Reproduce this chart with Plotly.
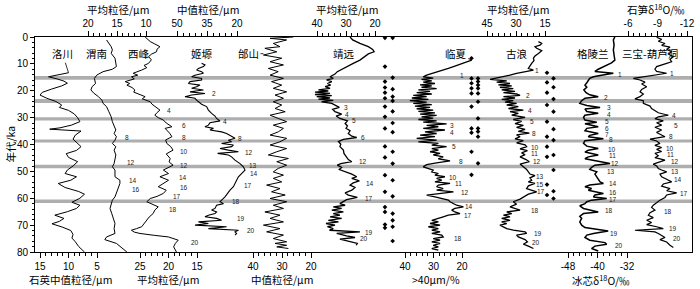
import numpy as np
import plotly.graph_objects as go

# ---------------- data (age in ka, values in each record's own units) ----------------
# 洛川 石英中值粒径 (μm)
lc_ka = [13.3, 14.0, 14.8, 15.6, 16.4, 17.2, 18.2, 19.4, 20.6, 21.6, 22.8, 24.0, 25.3, 26.2, 27.3, 28.6, 30.0, 31.5, 32.8, 33.8,
         34.3, 35.0, 36.5, 38.0, 39.5, 40.8, 42.2, 43.4, 44.8, 46.4, 48.0, 49.5, 50.8, 52.0, 53.3, 54.5, 56.0, 57.5, 58.5, 60.0,
         61.5, 62.6, 63.8, 65.0, 66.3, 67.5, 68.6, 69.5, 70.8, 72.0, 73.5, 74.8, 76.2, 78.0, 80.0]
lc_val = [10.0, 12.0, 13.5, 12.0, 10.8, 10.2, 11.2, 13.0, 14.6, 15.0, 13.8, 12.2, 11.2, 11.6, 10.0, 9.0, 8.4, 8.0, 9.5, 11.5,
          13.3, 7.8, 8.8, 9.2, 8.4, 7.8, 8.6, 10.4, 10.0, 8.4, 9.2, 10.2, 10.6, 8.6, 9.6, 11.8, 10.6, 8.2, 7.2, 8.0,
          9.4, 8.0, 8.6, 10.2, 12.4, 10.8, 11.6, 12.9, 11.0, 9.6, 9.2, 9.4, 8.8, 8.2, 7.2]

# 渭南 平均粒径 (μm)
wn_ka = [1.1, 2.4, 3.6, 4.8, 6.1, 7.9, 9.8, 11.0, 12.0, 12.9, 14.2, 15.4, 17.3, 18.5, 19.7, 20.9, 22.2, 23.5, 24.7, 25.9,
         27.8, 29.7, 31.5, 33.4, 34.6, 35.9, 37.1, 38.4, 39.6, 40.8, 42.1, 43.9, 45.8, 47.1, 48.3, 49.5, 52.0, 53.3, 54.5, 56.4,
         58.2, 59.5, 60.7, 62.0, 63.8, 65.7, 67.5, 69.4, 71.3, 73.1, 74.4, 75.4, 76.8, 78.1, 80.0]
wn_val = [16.8, 16.4, 16.0, 15.8, 16.0, 15.35, 15.2, 15.1, 15.8, 17.4, 18.5, 18.9, 18.7, 19.3, 19.5, 19.0, 18.2, 17.6, 17.4, 16.8,
          16.4, 16.0, 15.8, 15.35, 15.2, 15.5, 15.1, 15.35, 15.8, 15.2, 15.5, 15.2, 15.35, 15.5, 15.8, 15.35, 15.35, 14.5, 14.5, 14.8,
          15.1, 15.35, 15.8, 16.0, 16.2, 15.9, 15.6, 15.35, 15.5, 15.35, 16.8, 17.1, 15.1, 14.3, 13.3]

# 西峰 平均粒径 (μm)
xf_ka = [0.0, 1.0, 1.7, 2.6, 3.6, 4.5, 5.5, 6.4, 7.3, 8.5, 9.8, 10.6, 11.4, 12.3, 13.0, 13.5, 14.2, 14.8, 15.6, 16.6,
         17.3, 17.9, 18.8, 19.7, 20.5, 21.3, 22.2, 23.0, 24.1, 25.0, 26.0, 27.2, 28.1, 29.1, 30.0, 30.9, 32.0, 33.4, 34.0, 34.6,
         35.8, 37.1, 38.3, 39.6, 40.8, 42.1, 43.5, 45.2, 46.5, 47.7, 48.6, 49.5, 50.8, 52.0, 53.3, 54.5, 55.7, 57.0, 58.2, 59.3,
         60.1, 61.3, 62.2, 63.2, 64.4, 65.7, 67.0, 68.2, 69.4, 70.6, 71.3, 71.9, 72.6, 73.1, 73.8, 74.4, 75.6, 76.8, 78.1, 80.0]
xf_val = [24.1, 23.6, 23.2, 22.4, 21.5, 22.0, 22.1, 23.0, 23.5, 23.0, 23.5, 24.3, 23.8, 24.7, 25.6, 26.2, 25.4, 26.5, 26.0, 27.6,
          26.8, 27.3, 26.4, 25.9, 26.1, 25.0, 24.1, 24.6, 23.2, 22.9, 22.2, 21.5, 22.0, 22.4, 21.8, 20.9, 20.4, 19.4, 20.6, 20.3,
          19.8, 19.4, 20.5, 20.3, 19.6, 19.2, 20.4, 19.7, 19.9, 19.2, 20.2, 20.9, 20.0, 21.5, 20.0, 20.8, 21.8, 20.4, 20.9, 22.0,
          23.2, 23.8, 22.8, 21.8, 22.4, 22.7, 23.4, 23.8, 24.2, 24.7, 25.6, 26.5, 26.0, 25.0, 22.5, 20.0, 18.3, 18.8, 19.1, 18.6]

# 姬塬 中值粒径 (μm)
jy_ka = [9.8, 10.4, 11.0, 11.7, 12.3, 12.9, 13.5, 14.2, 14.8, 15.4, 16.0, 16.6, 17.3, 17.9, 18.5, 19.1, 19.7, 20.4, 21.0, 21.6,
         22.2, 22.8, 23.5, 24.1, 25.0, 25.9, 27.2, 28.4, 29.4, 30.3, 31.2, 31.9, 32.8, 33.4, 34.0, 34.6, 35.3, 35.9, 37.1, 37.7,
         38.4, 39.0, 39.6, 40.2, 40.8, 41.5, 42.1, 42.7, 43.3, 43.9, 44.6, 45.8, 47.1, 48.3, 49.5, 50.8, 52.0, 53.3, 54.5, 55.7,
         57.0, 58.2, 59.5, 60.7, 61.3, 62.0, 62.6, 63.8, 64.4, 65.1, 65.7, 66.3, 66.9, 67.5, 68.2, 68.8, 69.4, 70.0, 70.6, 71.3,
         71.9, 72.5, 73.1, 73.7]
jy_val = [37.7, 36.0, 36.8, 39.3, 40.2, 37.7, 36.8, 41.0, 42.7, 37.7, 37.7, 43.5, 44.3, 38.5, 40.2, 42.7, 36.8, 43.5, 36.0, 42.7,
          46.0, 41.0, 40.2, 39.3, 37.7, 35.2, 34.3, 32.7, 31.0, 30.2, 28.5, 33.5, 34.3, 36.0, 31.8, 33.5, 27.7, 25.2, 22.7, 21.0,
          24.3, 22.7, 27.7, 21.8, 22.7, 28.5, 24.3, 19.3, 29.7, 24.3, 22.7, 21.0, 18.5, 16.8, 16.0, 17.7, 19.3, 20.2, 21.0, 21.8,
          23.5, 24.7, 26.0, 27.7, 28.5, 26.8, 30.2, 31.0, 32.7, 30.2, 31.0, 34.3, 36.0, 30.2, 27.7, 39.3, 34.3, 41.0, 25.2, 34.3,
          19.3, 21.0, 20.2, 21.0]

# 邰山 中值粒径 (μm)
ts_ka = [0.0, 0.5, 1.1, 2.4, 3.6, 4.2, 5.5, 6.7, 7.9, 9.2, 10.4, 11.7, 12.9, 14.2, 15.4, 16.6, 17.9, 19.1, 20.4, 21.6,
         22.8, 24.1, 25.3, 26.6, 27.8, 29.1, 30.3, 31.5, 32.8, 34.0, 35.3, 36.5, 37.7, 39.0, 40.2, 41.5, 42.7, 43.9, 45.2, 46.4,
         47.7, 48.9, 50.2, 51.4, 52.6, 53.9, 55.1, 56.4, 57.6, 58.8, 60.1, 61.3, 62.6, 63.8, 65.1, 66.3, 67.5, 68.8, 70.0, 71.3,
         72.5, 73.7, 75.0, 76.2, 76.8, 77.5, 78.1, 78.7]
ts_val = [26.1, 34.1, 28.4, 33.0, 30.7, 35.9, 31.8, 36.4, 30.1, 34.1, 29.5, 34.7, 31.3, 34.1, 29.5, 33.6, 30.1, 33.0, 28.4, 32.4,
          29.5, 33.0, 30.1, 32.4, 28.9, 34.1, 31.3, 28.4, 33.0, 29.5, 31.3, 34.1, 28.4, 30.7, 34.1, 28.4, 31.8, 34.7, 27.8, 31.8,
          28.4, 31.3, 33.0, 29.5, 33.0, 30.1, 35.3, 30.7, 33.6, 28.9, 34.1, 28.4, 33.0, 29.5, 35.9, 30.7, 34.1, 29.5, 36.4, 30.7,
          35.3, 29.5, 33.0, 28.4, 32.4, 28.4, 31.8, 27.8]

# 靖远 平均粒径 (μm)
jyu_ka = [0.0, 1.1, 2.4, 3.6, 4.6, 5.5, 6.3, 7.3, 8.6, 9.8, 10.8, 11.7, 12.9, 13.8, 14.8, 15.4, 16.0, 16.6, 17.3, 17.9,
          18.5, 19.1, 19.7, 20.1, 20.5, 21.0, 21.4, 21.8, 22.2, 22.7, 23.1, 23.6, 24.1, 24.7, 25.3, 26.2, 26.9, 27.8, 28.7, 29.4,
          30.3, 31.2, 32.2, 33.1, 34.0, 34.9, 35.9, 36.9, 37.4, 38.1, 38.9, 39.9, 40.8, 42.1, 43.3, 44.6, 45.6, 46.4, 47.1, 47.7,
          48.5, 49.3, 50.2, 51.0, 52.0, 52.6, 53.5, 54.3, 55.1, 56.0, 57.0, 58.0, 58.8, 59.7, 60.5, 61.3, 62.0, 62.6, 63.2, 63.8,
          64.4, 65.1, 65.7, 66.3, 66.9, 67.5, 68.2, 68.8, 69.4, 70.0, 70.6, 71.3, 71.9, 72.5, 73.1, 74.0, 74.6, 75.2, 76.0, 76.8,
          77.5]
jyu_val = [28.6, 27.7, 25.2, 22.3, 20.8, 20.3, 22.3, 23.4, 25.2, 27.5, 29.2, 30.9, 33.0, 33.8, 35.5, 34.4, 36.7, 34.9, 36.4, 35.3,
           37.2, 35.5, 39.5, 36.1, 40.7, 35.5, 40.7, 34.9, 40.1, 35.5, 39.5, 34.4, 38.4, 34.9, 33.8, 32.3, 34.6, 33.8, 31.5, 33.4,
           32.1, 29.5, 30.3, 29.5, 30.0, 28.6, 29.2, 28.0, 26.3, 30.9, 32.6, 31.8, 32.1, 30.9, 30.7, 29.8, 29.2, 28.0, 31.8, 33.0,
           31.5, 32.3, 29.8, 28.0, 26.3, 28.0, 25.4, 27.5, 28.6, 26.9, 28.0, 30.3, 29.2, 26.1, 29.8, 30.9, 32.1, 30.3, 34.4, 31.5,
           34.9, 30.9, 34.4, 32.1, 35.5, 31.5, 36.1, 32.6, 36.9, 33.8, 36.4, 34.4, 35.7, 25.2, 33.2, 29.8, 26.9, 32.1, 29.2, 26.1,
           26.5]

# 临夏 >40μm 含量 (%)
lx_ka = [8.6, 9.2, 9.8, 10.4, 11.0, 11.7, 12.3, 12.9, 13.5, 14.2, 14.8, 15.3, 15.8, 16.3, 16.8, 17.3, 17.8, 18.2, 18.7, 19.2,
         19.7, 20.2, 20.7, 21.2, 21.7, 22.2, 22.7, 23.2, 23.7, 24.2, 24.7, 25.2, 25.7, 26.2, 26.7, 27.2, 27.7, 28.2, 28.7, 29.2,
         29.7, 30.2, 30.7, 31.2, 31.7, 32.3, 32.9, 33.4, 34.0, 34.6, 35.3, 35.9, 36.5, 37.1, 37.7, 38.4, 39.0, 39.6, 40.2, 40.8,
         41.5, 42.1, 42.7, 43.3, 43.9, 44.6, 45.3, 46.1, 46.8, 47.5, 48.3, 48.9, 49.5, 50.2, 50.8, 51.4, 52.0, 52.6, 53.3, 53.9,
         54.5, 55.1, 55.7, 56.4, 57.0, 57.6, 58.2, 58.8, 59.5, 60.1, 60.7, 61.3, 62.0, 62.6, 63.2, 63.8, 64.4, 65.1, 65.7, 66.3,
         66.9, 67.5, 68.2, 68.8, 69.4, 70.0, 70.6, 71.3, 71.9, 72.5, 73.1, 73.7, 74.4, 75.0, 75.6, 76.2, 76.8, 77.5, 78.1, 78.7,
         79.3]
lx_val = [16.6, 18.4, 19.5, 21.9, 23.0, 24.8, 26.6, 28.3, 30.6, 32.4, 33.6, 30.1, 34.2, 30.6, 33.6, 29.5, 34.7, 30.6, 34.2, 28.9,
          35.3, 31.2, 35.9, 30.6, 37.1, 32.4, 37.6, 31.8, 38.3, 32.4, 37.1, 30.6, 36.5, 31.2, 35.9, 30.1, 35.3, 29.5, 34.7, 28.9,
          34.2, 30.1, 35.3, 28.9, 33.6, 25.4, 32.4, 28.3, 33.6, 26.0, 33.0, 28.9, 34.7, 29.5, 35.9, 28.9, 35.3, 28.3, 30.6, 25.4,
          30.6, 28.3, 31.2, 27.7, 30.1, 26.6, 28.3, 24.2, 28.9, 32.4, 33.6, 31.8, 30.1, 30.6, 28.3, 29.5, 26.0, 28.9, 27.1, 29.5,
          24.2, 28.3, 28.9, 26.6, 28.9, 23.0, 28.9, 32.4, 29.5, 26.6, 24.8, 24.2, 23.0, 21.9, 19.5, 22.5, 23.6, 22.5, 20.7, 24.8,
          26.6, 28.9, 30.6, 28.3, 31.2, 27.7, 31.8, 28.3, 30.6, 27.7, 30.6, 27.1, 26.6, 30.1, 27.7, 30.6, 27.7, 30.1, 28.3, 30.6,
          28.3]

# 古浪 平均粒径 (μm)
gl_ka = [1.7, 2.4, 3.0, 3.6, 4.2, 5.1, 6.1, 7.1, 7.9, 8.8, 9.8, 10.8, 11.7, 12.3, 12.9, 13.5, 14.2, 14.8, 15.4, 15.8,
         16.3, 16.8, 17.3, 17.8, 18.2, 18.7, 19.2, 19.7, 20.2, 20.7, 21.2, 21.7, 22.2, 22.7, 23.2, 23.7, 24.2, 24.7, 25.3, 25.9,
         26.6, 27.2, 27.8, 28.4, 29.1, 29.9, 30.7, 31.4, 32.2, 32.9, 33.6, 34.4, 35.1, 35.8, 36.4, 37.1, 37.9, 38.6, 39.4, 40.1,
         40.8, 41.6, 42.3, 43.1, 43.8, 44.6, 45.6, 46.4, 47.3, 48.3, 49.3, 50.2, 51.0, 51.6, 52.4, 53.3, 53.9, 54.5, 55.4, 56.4,
         57.0, 57.6, 58.5, 59.5, 60.3, 61.3, 62.2, 63.2, 63.9, 64.4, 65.1, 65.7, 66.3, 66.9, 67.5, 68.2, 68.8, 69.4, 70.0, 70.6,
         71.3, 71.9, 72.5, 73.1, 73.7, 74.4, 75.4, 76.2, 77.1, 77.8, 78.7]
gl_val = [18.4, 16.7, 17.6, 20.2, 19.3, 16.7, 18.4, 20.2, 21.0, 20.7, 21.9, 22.8, 23.6, 21.0, 26.2, 29.7, 33.1, 36.5, 40.9, 43.4,
          34.8, 40.0, 33.1, 39.1, 32.2, 38.3, 31.4, 37.4, 30.5, 36.5, 29.7, 27.9, 36.5, 30.5, 37.4, 31.4, 35.7, 29.7, 34.8, 28.8,
          33.9, 26.2, 33.1, 28.8, 32.2, 25.3, 31.4, 27.1, 30.5, 26.2, 29.7, 25.3, 28.8, 23.1, 29.7, 27.9, 30.5, 26.2, 29.7, 25.3,
          24.5, 27.9, 24.1, 27.1, 25.3, 27.9, 24.8, 23.1, 27.9, 26.2, 24.5, 23.6, 22.8, 20.2, 22.8, 21.9, 23.6, 20.2, 23.6, 24.5,
          21.9, 19.3, 23.6, 26.2, 27.9, 31.4, 29.7, 33.1, 29.7, 27.9, 34.8, 32.2, 36.5, 33.1, 37.4, 33.1, 37.4, 34.8, 38.3, 36.5,
          34.8, 31.4, 25.3, 24.5, 29.7, 28.8, 25.3, 24.1, 26.2, 23.6, 21.0]

# 格陵兰 冰芯 δ18O (‰)
gr_ka = [0.0, 1.1, 3.0, 4.8, 6.7, 8.6, 9.6, 10.4, 11.3, 12.0, 12.8, 13.5, 14.2, 14.8, 15.4, 16.0, 17.0, 17.9, 18.7, 19.7,
         20.7, 21.5, 22.2, 22.8, 23.7, 24.7, 25.5, 26.2, 26.8, 27.7, 28.4, 29.1, 29.9, 30.9, 31.7, 32.3, 33.4, 34.0, 34.9, 35.9,
         36.6, 37.1, 37.9, 38.6, 39.6, 40.6, 41.5, 42.1, 42.8, 43.9, 44.6, 45.3, 46.2, 47.1, 47.7, 48.5, 49.3, 50.2, 51.0, 52.0,
         53.0, 53.9, 54.5, 55.1, 55.7, 56.4, 57.0, 57.6, 58.2, 58.8, 59.5, 60.1, 60.7, 61.3, 62.0, 62.8, 63.8, 65.1, 65.7, 66.7,
         67.5, 68.8, 70.0, 70.9, 71.5, 72.2, 73.1, 73.7, 74.6, 75.6, 76.5, 77.1, 77.8, 78.7, 79.6]
gr_val = [-35.3, -35.7, -35.5, -35.7, -35.5, -35.3, -36.2, -37.5, -38.9, -39.8, -40.7, -35.7, -38.9, -41.1, -42.1, -42.5, -42.9, -43.4, -42.9, -43.7,
          -43.1, -42.1, -39.8, -43.4, -44.3, -44.8, -42.9, -39.3, -43.4, -42.9, -39.8, -43.4, -43.8, -43.4, -40.2, -43.4, -39.8, -42.9, -43.4, -39.8,
          -42.1, -42.5, -38.4, -43.4, -43.8, -42.9, -39.8, -42.5, -43.4, -39.8, -42.5, -43.4, -40.2, -36.6, -40.7, -41.6, -42.1, -40.2, -40.7, -40.2,
          -39.8, -39.3, -38.4, -42.1, -43.4, -41.6, -42.5, -40.7, -38.4, -40.7, -41.1, -37.5, -41.6, -42.9, -43.4, -44.8, -43.8, -39.8, -43.8, -44.8,
          -44.3, -44.8, -44.3, -43.4, -40.2, -37.1, -41.1, -42.9, -43.4, -42.1, -38.0, -37.5, -40.7, -41.6, -39.8]

# 三宝-葫芦洞 石笋 δ18O (‰)
sb_ka = [0.1, 0.9, 1.6, 2.4, 3.1, 3.8, 4.6, 5.5, 6.3, 7.3, 8.3, 9.2, 9.8, 10.4, 11.0, 12.0, 12.8, 13.5, 14.3, 14.8,
         15.4, 16.0, 16.8, 17.5, 18.5, 19.5, 20.4, 21.2, 22.2, 23.0, 23.7, 24.7, 25.7, 26.6, 27.4, 28.2, 29.1, 29.7, 30.4, 31.2,
         31.9, 32.8, 33.6, 34.6, 35.5, 36.4, 37.1, 38.0, 38.7, 39.6, 40.3, 41.1, 41.8, 42.6, 43.3, 44.2, 44.9, 45.8, 46.6, 47.3,
         48.0, 48.9, 49.5, 50.2, 51.0, 52.0, 52.9, 53.9, 54.7, 55.5, 56.4, 57.2, 58.0, 58.8, 59.7, 60.7, 61.7, 62.6, 63.4, 64.4,
         65.4, 66.3, 67.2, 68.2, 69.0, 69.8, 70.6, 71.3, 71.9, 72.5, 73.1, 73.9, 74.6, 75.4, 76.3, 77.5, 78.3]
sb_val = [-8.91, -9.42, -9.08, -9.76, -9.42, -10.27, -9.93, -10.44, -10.10, -10.61, -10.27, -10.44, -9.93, -9.42, -8.91, -8.74, -8.91, -9.93, -8.40, -7.22,
          -6.54, -7.22, -7.73, -7.39, -7.90, -7.39, -7.22, -7.56, -7.22, -6.71, -7.56, -7.56, -8.24, -8.40, -8.74, -9.08, -10.10, -9.08, -8.74, -9.59,
          -8.91, -9.42, -8.74, -9.42, -8.91, -9.42, -9.76, -8.24, -8.91, -9.25, -8.74, -9.42, -8.91, -9.42, -8.74, -9.08, -8.74, -9.76, -9.08, -8.57,
          -8.91, -9.08, -9.42, -9.93, -9.25, -9.42, -9.93, -10.44, -9.59, -9.42, -10.27, -9.93, -10.95, -9.93, -9.76, -9.25, -8.91, -8.57, -8.40, -8.74,
          -8.24, -8.07, -8.57, -7.90, -8.40, -7.90, -8.91, -9.59, -6.71, -8.74, -9.08, -9.42, -9.76, -9.25, -9.93, -10.27, -10.61]

# grey bands (ka)
band_top = [14.5, 23.1, 29.9, 38.1, 47.5, 60.5]
band_bot = [15.9, 24.6, 31.1, 39.3, 48.8, 61.8]

# dated-sample dots (ka), two columns per site
dots_jy_a = [0.3, 11.0, 16.6, 18.8, 20.7, 22.8, 25.9, 29.7, 34.0, 40.7, 44.8, 51.4, 57.6, 63.3, 65.1, 69.8, 71.0]
dots_jy_b = [0.3, 15.1, 19.4, 22.2, 23.8, 27.7, 32.0, 35.4, 42.7, 47.1, 53.3, 59.3, 65.7, 68.2, 70.6, 75.9]
dots_lx_a = [7.9, 15.4, 17.2, 19.1, 21.0, 25.9, 34.0, 35.6, 42.7, 51.3]
dots_lx_b = [15.4, 16.6, 17.9, 19.1, 21.0, 24.1, 30.3, 34.0, 35.2, 37.1, 47.0]
dots_gl_a = [13.3, 16.9, 20.7, 25.3, 31.5, 37.1, 40.8, 44.6, 54.9, 58.8]
dots_gl_b = [15.4, 18.7, 23.1, 27.8, 34.3, 38.4, 43.9, 49.5, 57.4, 60.1]

# interstadial numbers: (label, ka, value on the record's axis)
wn_lab = [(8, 37.4, 13.9), (12, 46.7, 13.7), (14, 53.3, 13.2), (16, 56.6, 12.8)]
xf_lab = [(4, 27.4, 20.6), (6, 33.0, 18.0), (8, 37.4, 18.0), (10, 42.7, 18.3), (12, 47.7, 18.4), (14, 52.3, 18.45),
          (16, 56.1, 18.4), (17, 59.5, 19.6), (18, 64.1, 20.3), (20, 76.5, 16.4)]
jy_lab = [(2, 21.0, 33.5), (4, 31.5, 28.0), (8, 37.7, 20.5), (12, 43.1, 16.8), (13, 47.7, 15.2), (14, 50.8, 14.3),
          (17, 55.1, 17.7), (18, 61.3, 23.5), (19, 67.5, 21.0), (20, 72.1, 16.0)]
jyu_lab = [(3, 26.2, 31.5), (4, 28.8, 30.9), (5, 31.2, 28.6), (6, 37.4, 25.5), (12, 46.4, 26.3), (14, 54.5, 23.8),
           (17, 60.1, 24.0), (19, 72.6, 24.0), (20, 75.0, 25.7)]
lx_lab = [(1, 14.2, 21.3), (3, 33.0, 24.8), (4, 35.5, 24.8), (5, 40.8, 24.2), (8, 46.4, 21.9), (10, 52.1, 25.4),
          (11, 54.6, 23.0), (12, 57.9, 21.1), (14, 63.2, 19.5), (17, 66.3, 20.1), (18, 75.0, 23.6)]
gl_lab = [(1, 12.3, 21.0), (2, 21.8, 25.9), (4, 27.2, 24.8), (5, 31.5, 23.6), (8, 35.9, 22.8), (10, 41.1, 23.1),
          (11, 43.3, 23.1), (12, 46.4, 22.2), (13, 51.8, 20.7), (15, 54.7, 20.7), (17, 57.6, 20.2), (18, 64.6, 23.1),
          (19, 73.1, 21.6), (20, 76.4, 22.8)]
gr_lab = [(1, 13.9, -35.0), (2, 22.5, -38.9), (3, 26.4, -38.0), (4, 28.8, -38.0), (5, 31.6, -38.4), (6, 33.9, -38.4),
          (7, 36.1, -38.4), (8, 38.3, -37.5), (10, 41.7, -37.7), (11, 44.2, -37.5), (12, 47.2, -36.8), (13, 50.2, -38.0),
          (14, 54.6, -37.5), (16, 58.0, -37.3), (17, 60.3, -37.5), (18, 64.7, -38.6), (19, 73.1, -37.1), (20, 77.5, -35.7)]
sb_lab = [(1, 13.5, -10.10), (4, 29.3, -10.27), (5, 33.0, -10.44), (8, 37.1, -10.0), (10, 41.5, -9.69), (11, 43.6, -9.76),
          (12, 46.2, -10.2), (13, 49.9, -10.17), (14, 52.9, -10.51), (17, 58.2, -11.05), (18, 64.8, -9.49), (19, 71.3, -9.93),
          (20, 74.9, -10.37)]

y_ticks = [0, 10, 20, 30, 40, 50, 60, 70, 80]

# ---------------- layout helpers ----------------
FONT = "Arial, Liberation Sans, sans-serif"
CJK = "Noto Sans CJK SC, sans-serif"
L_PX, R_PX, T_PX, B_PX = 35, 692, 37, 252


def axis_range(va, pa, vb, pb):
    s = (pb - pa) / (vb - va)
    return [va + (L_PX - pa) / s, va + (R_PX - pa) / s]


# (axis, side, anchor ticks, majors, minor step, title, title value, site, site value, values, ages, labels, width, leader)
panels = [
    ("x2", "bottom", (15, 40, 5, 97), [15, 10, 5], 1, "石英中值粒径/μm", 9.6, "洛川", 10.3, lc_val, lc_ka, [], 1.0,
     (10.0, 13.3, -6, -19)),
    ("x3", "top", (20, 88, 10, 146), [20, 15, 10], 1, "平均粒径/μm", 14.8, "渭南", 18.5, wn_val, wn_ka, wn_lab, 1.0, None),
    ("x4", "bottom", (25, 140, 15, 197), [25, 20, 15], 1, "平均粒径/μm", 20.1, "西峰", 25.1, xf_val, xf_ka, xf_lab, 1.0, None),
    ("x5", "top", (50, 177, 20, 237), [50, 35, 20], 3, "中值粒径/μm", 34.5, "姬塬", 37.7, jy_val, jy_ka, jy_lab, 1.1, None),
    ("x6", "bottom", (40, 253, 20, 311), [40, 30, 20], 2, "中值粒径/μm", 30, "邰山", 41.6, ts_val, ts_ka, [], 1.0,
     (36.4, 6.2, -15, 0)),
    ("x7", "top", (40, 317, 20, 375), [40, 30, 20], 2, "平均粒径/μm", 29.7, "靖远", 30.7, jyu_val, jyu_ka, jyu_lab, 1.3, None),
    ("x8", "bottom", (40, 405, 20, 462), [40, 30, 20], 2, ">40μm/%", 29.1, "临夏", 20.7, lx_val, lx_ka, lx_lab, 1.3,
     (16.6, 8.6, -16, -7)),
    ("x9", "top", (45, 487, 15, 545), [45, 30, 15], 3, "平均粒径/μm", 29.0, "古浪", 29.6, gl_val, gl_ka, gl_lab, 1.3, None),
    ("x10", "bottom", (-48, 568, -32, 627), [-48, -40, -32], 1.6, "冰芯δ<sup>18</sup>O/‰", -39.1, "格陵兰", -41.1, gr_val, gr_ka, gr_lab, 1.5, None),
    ("x11", "top", (-6, 628, -12, 687), [-6, -9, -12], 0.6, "石笋δ<sup>18</sup>O/‰", -8.85, "三宝-葫芦洞", -8.24, sb_val, sb_ka, sb_lab, 1.2, None),
]

fig = go.Figure()
layout = dict(
    width=700, height=289, autosize=False,
    margin=dict(l=L_PX, r=700 - R_PX, t=T_PX, b=289 - B_PX, autoexpand=False),
    paper_bgcolor="white", plot_bgcolor="white", showlegend=False,
    font=dict(family=FONT, size=10, color="black"),
    xaxis=dict(domain=[0, 1], range=[0, 1], anchor="y", showticklabels=False, ticks="", showgrid=False,
               zeroline=False, showline=True, mirror=True, linecolor="black", linewidth=1, fixedrange=True),
    yaxis=dict(domain=[0, 1], range=[80, 0], anchor="x", tickmode="array", tickvals=y_ticks, ticks="outside",
               ticklen=4, tickwidth=1, tickcolor="black",
               minor=dict(tickmode="array", tickvals=[v for v in range(0, 81, 2) if v % 10], ticks="outside",
                          ticklen=2, tickwidth=1, tickcolor="black"),
               showgrid=False, zeroline=False, showline=True, mirror=True, linecolor="black", linewidth=1,
               tickfont=dict(size=10, family=FONT), fixedrange=True),
)

annotations = []
shapes = []

for t, b in zip(band_top, band_bot):
    shapes.append(dict(type="rect", xref="paper", yref="y", x0=0, x1=1, y0=t, y1=b,
                       fillcolor="#aeaeae", line=dict(width=0), layer="below"))

for (ax, side, anc, majors, mstep, title, tval, site, sval, vals, kas, labs, lw, leader) in panels:
    va, pa, vb, pb = anc
    lo, hi = min(majors), max(majors)
    n = int(round((hi - lo) / mstep))
    minor_vals = [round(lo + i * mstep, 3) for i in range(n + 1)]
    minor_vals = [m for m in minor_vals if all(abs(m - M) > 1e-6 for M in majors)]
    layout["xaxis" + ax[1:]] = dict(
        overlaying="x", side=side, anchor="y", range=axis_range(va, pa, vb, pb),
        tickmode="array", tickvals=majors, ticktext=[str(v) for v in majors],
        ticks="outside", ticklen=5, tickwidth=1, tickcolor="black",
        minor=dict(tickmode="array", tickvals=minor_vals, ticks="outside", ticklen=3, tickwidth=1, tickcolor="black"),
        showline=False, showgrid=False, zeroline=False, tickfont=dict(size=10, family=FONT), fixedrange=True)
    fig.add_trace(go.Scatter(x=vals, y=kas, mode="lines", xaxis=ax, yaxis="y",
                             line=dict(color="black", width=lw), hoverinfo="skip"))
    # axis title
    annotations.append(dict(text=title, xref=ax, yref="paper", x=tval,
                            y=1.128 if side == "top" else -0.13, showarrow=False,
                            font=dict(family=CJK, size=10.5, color="black"),
                            xanchor="center", yanchor="middle"))
    # site name (with a leader line to the start of the record where the original has one)
    if leader is None:
        annotations.append(dict(text=site, xref=ax, yref="y", x=sval, y=6.2, showarrow=False,
                                font=dict(family=CJK, size=10.5, color="black"),
                                xanchor="center", yanchor="middle"))
    else:
        lx, ly, dx, dy = leader
        annotations.append(dict(text=site, xref=ax, yref="y", x=lx, y=ly, showarrow=True, arrowhead=0,
                                arrowwidth=0.8, arrowcolor="black", ax=dx, ay=dy, standoff=0,
                                font=dict(family=CJK, size=10.5, color="black")))
    for num, ka, xv in labs:
        annotations.append(dict(text=str(num), xref=ax, yref="y", x=xv, y=ka, showarrow=False,
                                font=dict(family=FONT, size=6.5, color="#222222"),
                                xanchor="left", yanchor="middle"))

# dot columns (positions across the main axis)
dot_sets = [(dots_jy_a, 0.5327), (dots_jy_b, 0.5444), (dots_lx_a, 0.6644), (dots_lx_b, 0.6743),
            (dots_gl_a, 0.7793), (dots_gl_b, 0.7892)]
for kas, xc in dot_sets:
    fig.add_trace(go.Scatter(x=[xc] * len(kas), y=kas, mode="markers", xaxis="x", yaxis="y",
                             marker=dict(symbol="diamond", size=3.6, color="black"), hoverinfo="skip"))

# y title
annotations.append(dict(text="年代/ka", xref="paper", yref="paper", x=-0.038, y=0.5, textangle=-90,
                        showarrow=False, font=dict(family=CJK, size=10.5, color="black"),
                        xanchor="center", yanchor="middle"))

layout["annotations"] = annotations
layout["shapes"] = shapes
fig.update_layout(**layout)
fig.write_html("out.html", config={"displayModeBar": False, "staticPlot": True},
               post_script="document.body.style.margin='0px';document.body.style.overflow='hidden';")
